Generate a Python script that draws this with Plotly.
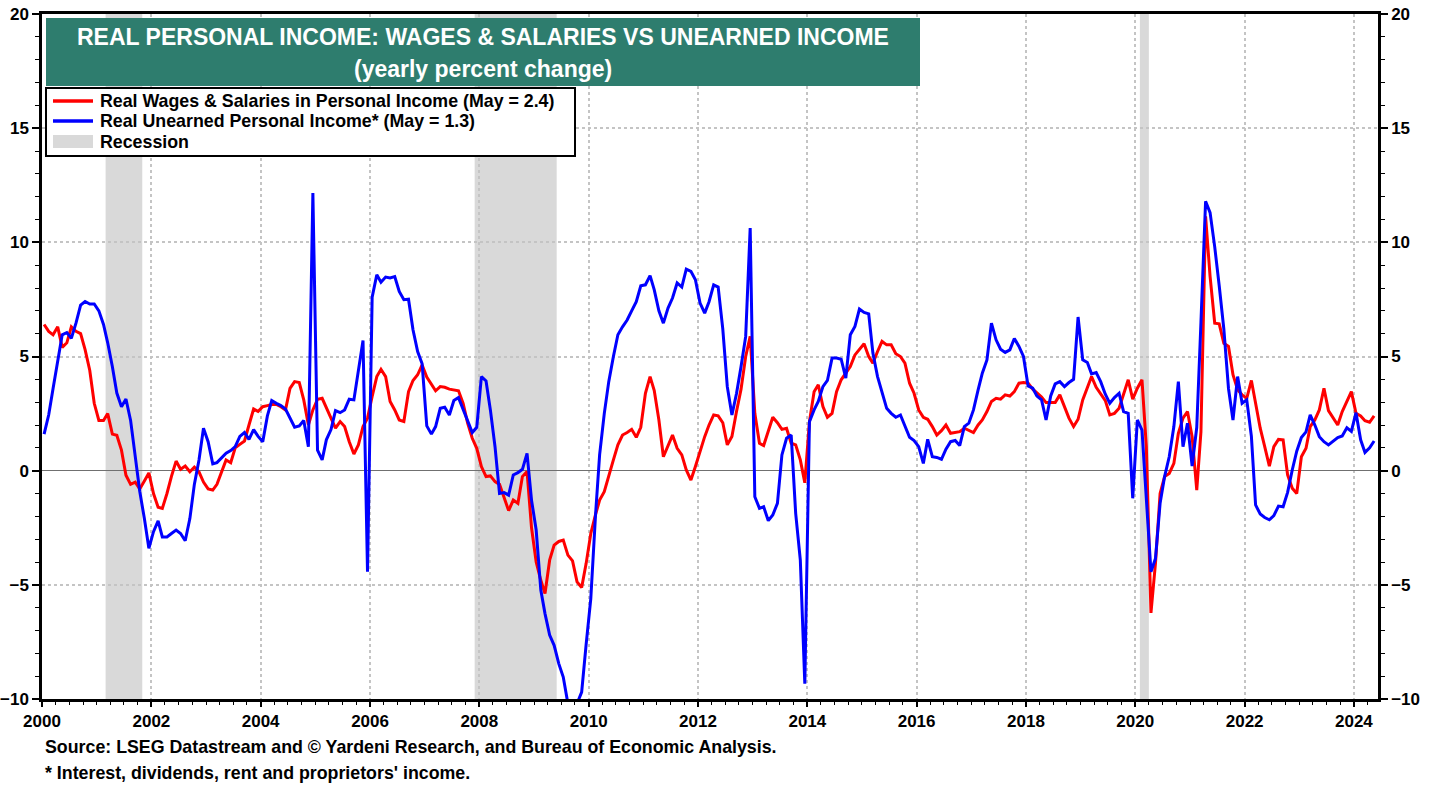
import pandas as pd
import plotly.graph_objects as go

# ---------------- data (yearly % change, monthly, Jan 2000 - May 2024) ----------------
wages_yoy = [
    # 2000
    6.4, 6.1, 5.95, 6.3, 5.4, 5.6, 6.3, 6.1, 6.0, 5.3, 4.4, 2.95,
    # 2001
    2.2, 2.2, 2.5, 1.6, 1.55, 0.9, -0.2, -0.6, -0.5, -0.8, -0.45, -0.1,
    # 2002
    -1.0, -1.6, -1.65, -1.0, -0.25, 0.42, 0.06, 0.2, -0.05, 0.15, -0.05, -0.5,
    # 2003
    -0.8, -0.85, -0.6, -0.1, 0.47, 0.35, 1.0, 1.15, 1.3, 2.0, 2.7, 2.6,
    # 2004
    2.8, 2.85, 2.9, 2.9, 2.8, 2.66, 3.6, 3.9, 3.86, 3.1, 2.0, 2.66,
    # 2005
    3.13, 3.17, 2.73, 2.3, 1.86, 2.15, 1.93, 1.27, 0.73, 1.13, 1.93, 2.3,
    # 2006
    3.25, 4.12, 4.44, 4.12, 3.03, 2.66, 2.22, 2.15, 3.46, 3.95, 4.2, 4.63,
    # 2007
    4.1, 3.8, 3.5, 3.68, 3.65, 3.57, 3.55, 3.5, 2.95, 2.08, 1.42, 0.98,
    # 2008
    0.18, -0.26, -0.23, -0.48, -0.6, -1.2, -1.75, -1.29, -1.43, -0.26, -0.04, -2.5,
    # 2009
    -4.0, -4.8, -5.38, -3.92, -3.26, -3.1, -3.04, -3.7, -3.95, -4.87, -5.12, -4.06,
    # 2010
    -2.75, -1.94, -1.29, -0.92, -0.19, 0.47, 1.13, 1.56, 1.67, 1.81, 1.46, 1.9,
    # 2011
    3.39, 4.12, 3.51, 2.22, 0.61, 1.13, 1.56, 0.98, 0.69, 0.03, -0.41, 0.18,
    # 2012
    0.88, 1.49, 2.0, 2.44, 2.4, 2.1, 1.13, 1.5, 2.6, 3.57, 5.0, 5.88,
    # 2013
    2.51, 1.2, 1.1, 1.71, 2.34, 2.1, 1.81, 1.86, 1.2, 1.13, 0.47, -0.53,
    # 2014
    2.15, 3.46, 3.76, 2.81, 2.34, 2.51, 3.46, 3.98, 4.3, 4.56, 5.07, 5.29,
    # 2015
    5.56, 5.0, 4.71, 5.22, 5.66, 5.51, 5.51, 5.12, 5.0, 4.71, 3.83, 3.39,
    # 2016
    2.66, 2.34, 2.25, 1.93, 1.56, 1.75, 2.0, 1.64, 1.67, 1.71, 1.86, 1.78,
    # 2017
    1.67, 2.0, 2.22, 2.59, 3.03, 3.17, 3.13, 3.32, 3.27, 3.46, 3.83, 3.86,
    # 2018
    3.83, 3.57, 3.42, 3.22, 2.98, 2.98, 2.98, 3.32, 2.81, 2.3, 1.93, 2.25,
    # 2019
    3.1, 3.68, 4.12, 3.65, 3.39, 3.07, 2.44, 2.51, 2.73, 3.39, 3.98, 3.13,
    # 2020
    3.61, 3.98, 1.05, -6.23, -4.06, -1.0, -0.26, -0.12, 0.32, 1.64, 2.3, 2.59,
    # 2021
    1.49, -0.85, 1.71, 11.14, 8.51, 6.46, 6.43, 5.58, 5.44, 4.2, 3.54, 3.32,
    # 2022
    3.17, 3.95, 2.95, 1.86, 1.05, 0.2, 1.05, 1.37, 1.35, -0.19, -0.77, -1.0,
    # 2023
    0.61, 0.98, 1.93, 2.22, 2.66, 3.61, 2.63, 2.34, 2.0, 2.59, 3.03, 3.46,
    # 2024
    2.51, 2.4, 2.19, 2.12, 2.4,
]

unearned_yoy = [
    # 2000
    1.6, 2.45, 3.6, 4.9, 5.95, 6.05, 5.8, 6.46, 7.25, 7.41, 7.3, 7.3,
    # 2001
    7.0, 6.4, 5.6, 4.56, 3.4, 2.8, 3.14, 2.2, 0.7, -0.9, -2.1, -3.4,
    # 2002
    -2.67, -2.2, -2.9, -2.9, -2.75, -2.6, -2.75, -3.07, -2.1, -0.6, 0.47, 1.86,
    # 2003
    1.27, 0.3, 0.35, 0.54, 0.76, 0.88, 1.05, 1.5, 1.67, 1.37, 1.8, 1.5,
    # 2004
    1.27, 2.4, 3.07, 2.95, 2.85, 2.7, 2.3, 1.9, 1.96, 2.2, 1.05, 12.16,
    # 2005
    0.9, 0.47, 1.35, 1.8, 2.63, 2.54, 2.66, 3.13, 3.1, 4.4, 5.7, -4.43,
    # 2006
    7.6, 8.58, 8.25, 8.48, 8.44, 8.5, 7.85, 7.49, 7.51, 6.17, 5.22, 4.68,
    # 2007
    1.96, 1.6, 1.93, 2.73, 2.78, 2.44, 3.07, 3.2, 2.66, 2.22, 1.67, 1.9,
    # 2008
    4.12, 3.93, 2.66, 1.05, -1.0, -0.96, -1.07, -0.19, -0.09, 0.06, 0.76, -1.29,
    # 2009
    -2.6, -5.23, -6.26, -7.2, -7.65, -8.45, -9.04, -10.2, -10.3, -10.2, -9.7, -7.6,
    # 2010
    -5.6, -2.0, 0.7, 2.5, 3.9, 5.0, 5.95, 6.3, 6.6, 7.0, 7.4, 8.1,
    # 2011
    8.14, 8.54, 7.92, 7.0, 6.46, 7.12, 7.56, 8.22, 8.04, 8.83, 8.73, 8.36,
    # 2012
    7.34, 6.9, 7.4, 8.14, 8.04, 6.2, 3.68, 2.44, 3.39, 4.56, 5.88, 10.63,
    # 2013
    -1.14, -1.65, -1.58, -2.19, -1.94, -1.43, 0.69, 1.42, 1.56, -1.87, -3.92, -9.33,
    # 2014
    2.15, 2.66, 3.03, 3.68, 3.95, 4.93, 4.93, 4.88, 4.05, 5.95, 6.32, 7.08,
    # 2015
    6.93, 6.87, 5.15, 4.12, 3.39, 2.73, 2.51, 2.34, 2.44, 1.93, 1.46, 1.32,
    # 2016
    1.05, 0.32, 1.37, 0.61, 0.58, 0.5, 0.94, 1.27, 1.32, 1.1, 1.93, 2.08,
    # 2017
    2.66, 3.54, 4.27, 4.85, 6.46, 5.73, 5.32, 5.18, 5.29, 5.79, 5.44, 5.0,
    # 2018
    3.71, 3.61, 3.27, 3.1, 2.22, 3.27, 3.8, 3.9, 3.68, 3.86, 4.0, 6.73,
    # 2019
    4.85, 4.74, 4.24, 4.3, 3.9, 3.35, 2.95, 3.2, 3.39, 2.59, 2.51, -1.21,
    # 2020
    2.22, 1.78, -1.36, -4.43, -3.85, -1.43, -0.26, 0.61, 1.93, 3.9, 1.05, 2.08,
    # 2021
    0.2, 1.9, 6.5, 11.8, 11.3, 9.8, 8.1, 6.2, 3.6, 2.22, 4.12, 2.95,
    # 2022
    3.1, 1.5, -1.5, -1.9, -2.05, -2.15, -1.97, -1.55, -1.58, -0.95, 0.03, 0.85,
    # 2023
    1.45, 1.7, 2.44, 2.0, 1.49, 1.27, 1.13, 1.3, 1.45, 1.52, 1.88, 1.72,
    # 2024
    2.54, 1.35, 0.8, 1.0, 1.3,
]

first_month = "2000-01-01"
recession_start = ["2001-03-01", "2007-12-01", "2020-02-01"]
recession_end = ["2001-11-01", "2009-06-01", "2020-04-01"]

title_line1 = "REAL PERSONAL INCOME: WAGES & SALARIES VS UNEARNED INCOME"
title_line2 = "(yearly percent change)"
legend_labels = [
    "Real Wages & Salaries in Personal Income (May = 2.4)",
    "Real Unearned Personal Income* (May = 1.3)",
    "Recession",
]
footnotes = [
    "Source: LSEG Datastream and © Yardeni Research, and Bureau of Economic Analysis.",
    "* Interest, dividends, rent and proprietors' income.",
]

# monthly observations plotted mid-month
months = pd.date_range(first_month, periods=len(wages_yoy), freq="MS") + pd.Timedelta(days=14)

# ---------------- layout geometry ----------------
W, H = 1436, 787
L, R, T, B = 42, 58, 14, 88
PW, PH = W - L - R, H - T - B


def px(xp):
    return (xp - L) / PW


def py(yp):
    return (H - B - yp) / PH


FONT = "Liberation Sans, Arial, Helvetica, sans-serif"
RED = "#ff0000"
BLUE = "#0000ff"
TEAL = "#2e7d6e"
REC = "#d9d9d9"
GRID = "#c4c4c4"

fig = go.Figure()
fig.add_trace(go.Scatter(x=months, y=wages_yoy, mode="lines",
                         line=dict(color=RED, width=3), name=legend_labels[0],
                         hoverinfo="x+y"))
fig.add_trace(go.Scatter(x=months, y=unearned_yoy, mode="lines",
                         line=dict(color=BLUE, width=3), name=legend_labels[1],
                         hoverinfo="x+y"))
# carrier for the right-hand axis
fig.add_trace(go.Scatter(x=months[:1], y=unearned_yoy[:1], yaxis="y2", mode="markers",
                         marker=dict(opacity=0), hoverinfo="skip", showlegend=False))

shapes = []
for s, e in zip(recession_start, recession_end):
    shapes.append(dict(type="rect", xref="x", yref="paper", x0=s, x1=e, y0=0, y1=1,
                       fillcolor=REC, line=dict(width=0), layer="below"))

# title box
shapes.append(dict(type="rect", xref="paper", yref="paper", x0=px(46), x1=px(920),
                   y0=py(86), y1=py(18), fillcolor=TEAL, line=dict(width=0), layer="above"))
# legend box
shapes.append(dict(type="rect", xref="paper", yref="paper", x0=px(46), x1=px(575),
                   y0=py(156), y1=py(88), fillcolor="white",
                   line=dict(color="black", width=2), layer="above"))
shapes.append(dict(type="line", xref="paper", yref="paper", x0=px(53), x1=px(93),
                   y0=py(101), y1=py(101), line=dict(color=RED, width=3.5), layer="above"))
shapes.append(dict(type="line", xref="paper", yref="paper", x0=px(53), x1=px(93),
                   y0=py(121), y1=py(121), line=dict(color=BLUE, width=3.5), layer="above"))
shapes.append(dict(type="rect", xref="paper", yref="paper", x0=px(53), x1=px(93),
                   y0=py(148), y1=py(135), fillcolor=REC, line=dict(width=0), layer="above"))

annotations = [
    dict(text=title_line1, xref="paper", yref="paper", x=px(483), y=py(37),
         xanchor="center", yanchor="middle", showarrow=False,
         font=dict(family=FONT, size=23, color="white", weight="bold")),
    dict(text=title_line2, xref="paper", yref="paper", x=px(483), y=py(69),
         xanchor="center", yanchor="middle", showarrow=False,
         font=dict(family=FONT, size=23, color="white", weight="bold")),
]
for lab, yy in zip(legend_labels, [101, 121, 142]):
    annotations.append(dict(text=lab, xref="paper", yref="paper", x=px(98), y=py(yy),
                            xanchor="left", yanchor="middle", showarrow=False,
                            font=dict(family=FONT, size=17.8, color="black", weight="bold")))
for note, yy in zip(footnotes, [747, 773]):
    annotations.append(dict(text=note, xref="paper", yref="paper", x=px(43), y=py(yy),
                            xanchor="left", yanchor="middle", showarrow=False,
                            font=dict(family=FONT, size=17.8, color="black", weight="bold")))

tickfont = dict(family=FONT, size=17, color="black", weight="bold")
yaxis_common = dict(range=[-10, 20], dtick=5, tick0=0, ticks="outside", ticklen=7,
                    tickwidth=1.5, tickcolor="black", showline=True, linecolor="black",
                    linewidth=2.5, tickfont=tickfont, fixedrange=True, automargin=False,
                    minor=dict(dtick=1, ticks="outside", ticklen=4, tickwidth=1,
                               tickcolor="black", showgrid=False))

fig.update_layout(
    width=W, height=H,
    autosize=False,
    margin=dict(l=L, r=R, t=T, b=B, pad=0, autoexpand=False),
    paper_bgcolor="white", plot_bgcolor="white",
    showlegend=False,
    font=dict(family=FONT, color="black"),
    xaxis=dict(type="date", range=["2000-01-01", "2024-06-10"],
               dtick="M24", tick0="2000-01-01", tickformat="%Y",
               ticks="outside", ticklen=5, tickwidth=1.5, tickcolor="black",
               showline=True, linecolor="black", linewidth=3, mirror=True,
               showgrid=True, gridcolor=GRID, gridwidth=1.5, griddash="dot",
               zeroline=False, tickfont=tickfont, fixedrange=True, automargin=False,
               minor=dict(dtick="M3", tick0="2000-01-01", ticks="outside", ticklen=3,
                          tickwidth=1, tickcolor="black", showgrid=False)),
    yaxis=dict(**yaxis_common, side="left", showgrid=True, gridcolor=GRID,
               gridwidth=1.5, griddash="dot", zeroline=True, zerolinecolor="#707070",
               zerolinewidth=1.2),
    yaxis2=dict(**yaxis_common, side="right", overlaying="y", showgrid=False,
                zeroline=False),
    shapes=shapes,
    annotations=annotations,
)

fig.write_html("out.html",
               config={"displayModeBar": False},
               post_script="document.body.style.margin='0px';document.body.style.overflow='hidden';")
